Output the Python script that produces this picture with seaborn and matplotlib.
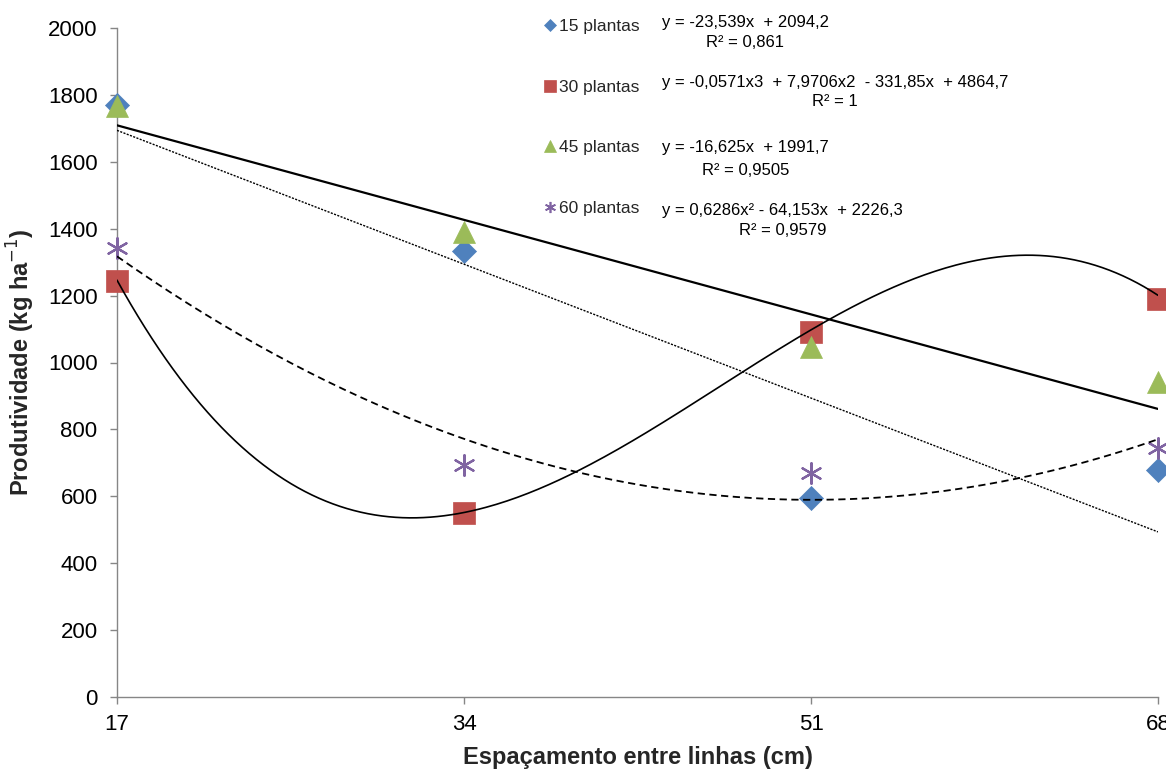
import numpy as np
import pandas as pd
import matplotlib
matplotlib.use("Agg")
import matplotlib.pyplot as plt
from matplotlib.lines import Line2D
import seaborn as sns

# ---------------- data ----------------
espacamento = [17, 34, 51, 68]
series_names = ["15 plantas", "30 plantas", "45 plantas", "60 plantas"]
prod_15 = [1771, 1333, 595, 680]
prod_30 = [1245, 550, 1092, 1190]
prod_45 = [1767, 1390, 1045, 942]
prod_60 = [1342, 694, 670, 745]

# trendline coefficients as printed on the chart (highest power first)
coef_15 = [-23.539, 2094.2]
coef_30 = [-0.0571, 7.9706, -331.85, 4864.7]
coef_45 = [-16.625, 1991.7]
coef_60 = [0.6286, -64.153, 2226.3]

eq_texts = [
    "y = -23,539x  + 2094,2\nR² = 0,861",
    "y = -0,0571x3  + 7,9706x2  - 331,85x  + 4864,7\nR² = 1",
    "y = -16,625x  + 1991,7\nR² = 0,9505",
    "y = 0,6286x² - 64,153x  + 2226,3\nR² = 0,9579",
]
y_ticks = [0, 200, 400, 600, 800, 1000, 1200, 1400, 1600, 1800, 2000]

# ---------------- style ----------------
sns.set_style("white")
plt.rcParams["font.family"] = ["Liberation Sans", "DejaVu Sans"]

W, H = 1166, 772
fig = plt.figure(figsize=(W / 100, H / 100), dpi=100)
ax = fig.add_axes([117 / W, 1 - 697 / H, (1158 - 117) / W, (697 - 28) / H])

colors = ["#4F81BD", "#C0504D", "#9BBB59", "#8064A2"]
markers = ["D", "s", "^", (6, 2, 0)]
sizes = [150, 240, 250, 220]
values = [prod_15, prod_30, prod_45, prod_60]

for vals, c, m, s in zip(values, colors, markers, sizes):
    if m == (6, 2, 0):
        sns.scatterplot(x=espacamento, y=vals, ax=ax, marker=m, s=s,
                        color=c, edgecolor=c, linewidth=1.6,
                        clip_on=False, zorder=3, legend=False)
    else:
        sns.scatterplot(x=espacamento, y=vals, ax=ax, marker=m, s=s,
                        color=c, edgecolor=c, linewidth=0.5,
                        clip_on=False, zorder=3, legend=False)

# trendlines
xs = np.linspace(espacamento[0], espacamento[-1], 300)
line_styles = [
    dict(coef=coef_15, ls=(0, (1.5, 1.0)), lw=1.0),
    dict(coef=coef_30, ls="-", lw=1.2),
    dict(coef=coef_45, ls="-", lw=1.6),
    dict(coef=coef_60, ls=(0, (4, 2.5)), lw=1.3),
]
for st in line_styles:
    df = pd.DataFrame({"x": xs, "y": np.polyval(st["coef"], xs)})
    sns.lineplot(data=df, x="x", y="y", ax=ax, color="black",
                 linestyle=st["ls"], linewidth=st["lw"], zorder=4,
                 legend=False, estimator=None, sort=False)

# axes
ax.set_xlim(espacamento[0], espacamento[-1])
ax.set_ylim(0, 2000)
ax.set_xticks(espacamento)
ax.set_xticklabels([str(v) for v in espacamento])
ax.set_yticks(y_ticks)
ax.set_yticklabels([str(v) for v in y_ticks])
for side in ["top", "right"]:
    ax.spines[side].set_visible(False)
for side in ["left", "bottom"]:
    ax.spines[side].set_color("#868686")
    ax.spines[side].set_linewidth(1.0)
ax.tick_params(axis="y", direction="out", length=5, width=1, color="#868686",
               pad=9, labelsize=16, labelcolor="#000000", left=True)
ax.tick_params(axis="x", direction="out", length=5, width=1, color="#868686",
               pad=7, labelsize=16, labelcolor="#000000", bottom=True)
ax.grid(False)

ax.set_xlabel("Espaçamento entre linhas (cm)", fontsize=17, fontweight="bold",
              labelpad=8)
ax.set_ylabel("Produtividade (kg ha$^{-1}$)", fontsize=17, fontweight="bold",
              labelpad=8)

# legend
handles = []
leg_sizes = [6, 9, 9, 8]
for c, m, ms in zip(colors, markers, leg_sizes):
    handles.append(Line2D([], [], linestyle="none", marker=m, markersize=ms,
                          color=c, markeredgecolor=c,
                          markeredgewidth=1.2 if m == (6, 2, 0) else 0.5))
fig.legend(handles, series_names, loc="upper left",
           bbox_to_anchor=(543 / W, 1 - 19 / H), frameon=False,
           fontsize=12.5, handlelength=0.8, handletextpad=0.15,
           labelspacing=2.62, borderpad=0, borderaxespad=0)

# equations
eq_top = [(662, 15), (662, 75), (662, 140), (662, 203)]
eq_gap = [1.4, 1.35, 1.65, 1.45]
for (px, py), t, g in zip(eq_top, eq_texts, eq_gap):
    fig.text(px / W, 1 - py / H, t, ha="left", va="top",
             multialignment="center", fontsize=12, linespacing=g,
             color="black")

fig.savefig("out.png", dpi=100)
